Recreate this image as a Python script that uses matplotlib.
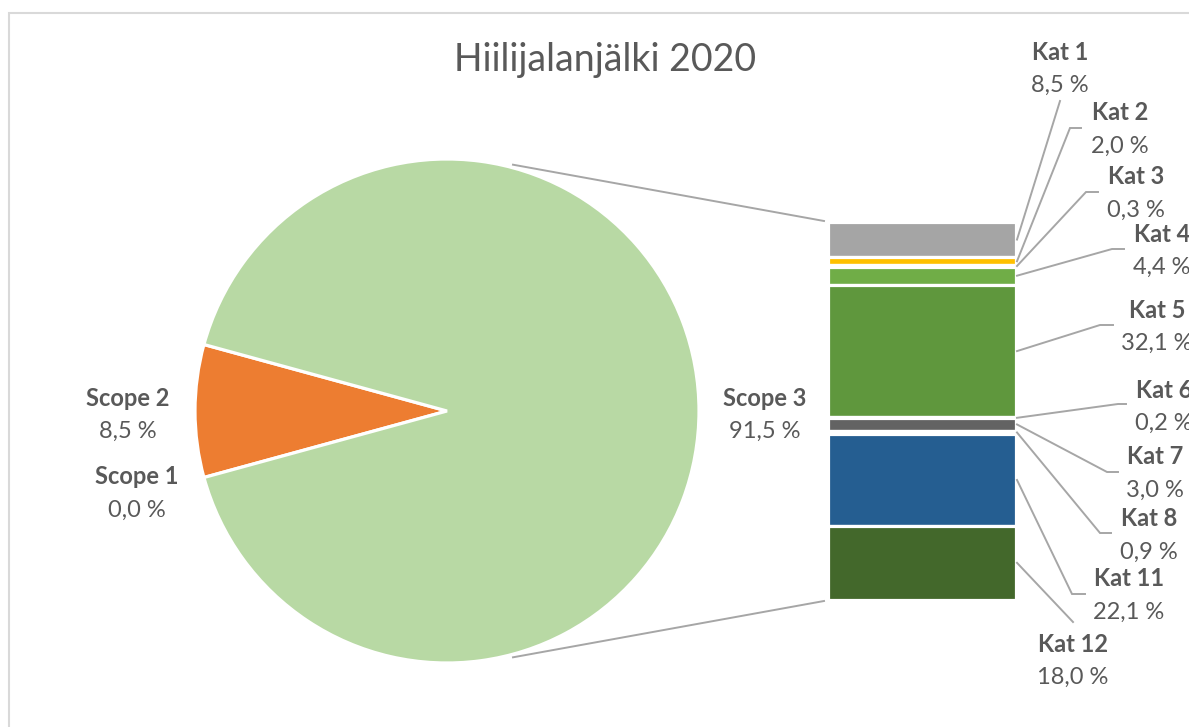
import matplotlib.pyplot as plt
import numpy as np
from matplotlib.patches import Rectangle

# figure size in pixels (dpi 100)
W, H = 1189, 727

title = "Hiilijalanjälki 2020"

scope_labels = ["Scope 1", "Scope 2", "Scope 3"]
scope_values = [0.0, 8.5, 91.5]
scope_colors = ["#4472C4", "#ED7D31", "#B8D9A4"]

kat_labels = ["Kat 1", "Kat 2", "Kat 3", "Kat 4", "Kat 5", "Kat 6",
              "Kat 7", "Kat 8", "Kat 11", "Kat 12"]
kat_values = [8.5, 2.0, 0.3, 4.4, 32.1, 0.2, 3.0, 0.9, 22.1, 18.0]
kat_colors = ["#A5A5A5", "#FFC000", "#5B9BD5", "#70AD47", "#5F973D", "#9E480E",
              "#636363", "#997300", "#255E91", "#43682B"]

TXT = "#595959"
LINE = "#A6A6A6"
FONT = "Lato"


def fmt(v):
    return f"{v:.1f}".replace(".", ",") + " %"


def Y(y):
    # reference pixels are measured from the top
    return H - y


def label(ax, x, y, name, value, gap=33):
    ax.text(x, Y(y), name, ha="center", va="center", fontsize=17,
            fontweight="bold", color=TXT, family=FONT)
    ax.text(x, Y(y + gap), fmt(value), ha="center", va="center", fontsize=17,
            color=TXT, family=FONT)


fig = plt.figure(figsize=(W / 100, H / 100), dpi=100)
ax = fig.add_axes([0, 0, 1, 1])

# pie: Scope 2 wedge centred on the left side
cx, cy, r = 447, Y(411), 252
start = 180 + scope_values[1] * 3.6 / 2
ax.pie(scope_values, colors=scope_colors, startangle=start, counterclock=False,
       center=(cx, cy), radius=r,
       wedgeprops=dict(edgecolor="white", linewidth=2.3))

# stacked bar for Scope 3 breakdown
bx0, bx1, btop, bbot = 828, 1016, 222, 600
scale = (bbot - btop) / sum(kat_values)
cum = np.concatenate([[0], np.cumsum(kat_values)[:-1]])
ax.bar((bx0 + bx1) / 2, -np.array(kat_values) * scale,
       bottom=Y(btop) - cum * scale, width=bx1 - bx0,
       color=kat_colors, edgecolor="white", linewidth=2.3)

# connector lines pie -> bar
a = np.deg2rad(75)
ax.plot([cx + (r + 3) * np.cos(a), bx0 - 4], [cy + (r + 3) * np.sin(a), Y(221)],
        color=LINE, lw=1.4)
ax.plot([cx + (r + 3) * np.cos(a), bx0 - 4], [cy - (r + 3) * np.sin(a), Y(601)],
        color=LINE, lw=1.4)

# pie labels
label(ax, 128, 398, scope_labels[1], scope_values[1])
label(ax, 137, 477, scope_labels[0], scope_values[0])
label(ax, 765, 398, scope_labels[2], scope_values[2])

# bar labels: (text x, name y, elbow x, elbow y, end x)
kat_pos = [
    (1060, 52, 1060, 101, 1060),
    (1120, 113, 1070, 128, 1081),
    (1136, 177, 1086, 192, 1098),
    (1162, 234, 1112, 249, 1124),
    (1157, 310, 1100, 325, 1113),
    (1164, 390, 1118, 404, 1126),
    (1155, 457, 1107, 472, 1118),
    (1149, 519, 1100, 533, 1111),
    (1129, 579, 1072, 594, 1085),
    (1073, 644, 1073, 622, 1073),
]
for i, (tx, ty, ex, ey, hx) in enumerate(kat_pos):
    sy = Y(btop) - (cum[i] + kat_values[i] / 2) * scale
    ax.plot([bx1 + 1, ex, hx], [sy, Y(ey), Y(ey)], color=LINE, lw=1.4,
            solid_joinstyle="miter")
    label(ax, tx, ty, kat_labels[i], kat_values[i])

ax.text(605, Y(60), title, ha="center", va="center", fontsize=27,
        color=TXT, family=FONT)

# chart area border
ax.add_patch(Rectangle((9, Y(H + 20)), W + 20, H + 20 - 13, fill=False,
                       edgecolor="#D9D9D9", lw=1.5))

ax.set_xlim(0, W)
ax.set_ylim(0, H)
ax.set_aspect("auto")
ax.axis("off")

fig.savefig("out.png", dpi=100)
